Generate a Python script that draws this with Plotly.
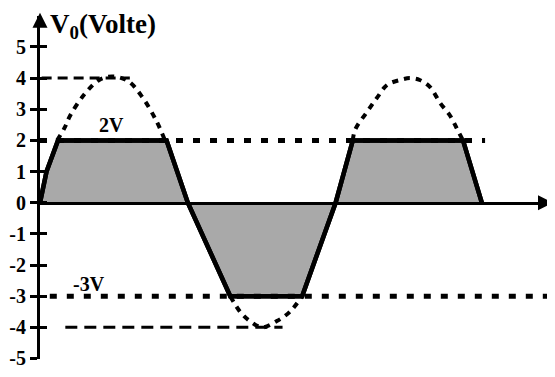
import plotly.graph_objects as go

# ---------------- data (x in degrees of the input sine, y in volts) ----------------
clip_x = [0, 8, 22, 155, 181, 233, 321, 362, 383, 518, 541]
clip_y = [0, 1, 2, 2, 0, -3, -3, 0, 2, 2, 0]

hump1_x = [21, 30, 37, 55, 73, 89, 108, 125, 143, 153]
hump1_y = [2, 2.4, 2.8, 3.5, 3.95, 4.05, 3.9, 3.4, 2.6, 2]
hump2_x = [233, 245, 257, 272, 290, 306, 321]
hump2_y = [-3, -3.5, -3.8, -4.0, -3.8, -3.5, -3]
hump3_x = [383, 386, 400, 413, 425, 441, 453, 465, 478, 490, 502, 511, 518]
hump3_y = [2, 2.35, 2.9, 3.38, 3.78, 3.94, 4.0, 3.94, 3.7, 3.2, 2.8, 2.35, 2]

level_4_x = [2, 110]
level_2_x = [0, 545]
level_m3_x = [12, 630]
level_m4_x = [31, 297]

tick_vals = [5, 4, 3, 2, 1, 0, -1, -2, -3, -4, -5]
tick_text = ["5", "4", "3", "2", "1", "0", "-1", "-2", "-3", "-4", "-5"]

label_2v = (88, 2.5, "2V")
label_3v = (60, -2.62, "-3V")
y_title = "V<sub>0</sub>(Volte)"

# ---------------- layout constants ----------------
W, H = 555, 377
OFF_X, OFF_Y = 8, 4  # offset of the figure inside the browser page


def px_x(p):
    return (p - OFF_X) / W


def px_y(p):
    return 1 - (p - OFF_Y) / H


X_RANGE = [0, 624.5]
Y_RANGE = [-5.03, 6.0]
X_DOMAIN = [px_x(40), px_x(550)]
Y_DOMAIN = [px_y(365), px_y(12)]
Y0_PAPER = Y_DOMAIN[0] + (0 - Y_RANGE[0]) / (Y_RANGE[1] - Y_RANGE[0]) * (Y_DOMAIN[1] - Y_DOMAIN[0])
SERIF = "Liberation Serif, Times New Roman, serif"

fig = go.Figure()

# shaded clipped waveform
fig.add_trace(go.Scatter(
    x=clip_x, y=clip_y, mode="lines", fill="tozeroy",
    fillcolor="#a9a9a9", line=dict(color="black", width=4.5),
    showlegend=False, hoverinfo="skip"))


# reference levels
def hline(xs, level, dash, width):
    fig.add_trace(go.Scatter(
        x=xs, y=[level, level], mode="lines",
        line=dict(color="black", width=width, dash=dash),
        showlegend=False, hoverinfo="skip"))


hline(level_4_x, 4, "10px,6px", 3)
hline(level_2_x, 2, "7px,10px", 5)
hline(level_m3_x, -3, "7px,10px", 5)
hline(level_m4_x, -4, "12px,7px", 3)

# dotted original sine portions
for hx, hy in [(hump1_x, hump1_y), (hump2_x, hump2_y), (hump3_x, hump3_y)]:
    fig.add_trace(go.Scatter(
        x=hx, y=hy, mode="lines", line=dict(color="black", width=4, dash="6px,6px"),
        line_shape="spline", showlegend=False, hoverinfo="skip"))

# redraw the clipped waveform outline on top of the level lines
fig.add_trace(go.Scatter(
    x=clip_x, y=clip_y, mode="lines", line=dict(color="black", width=4.5),
    showlegend=False, hoverinfo="skip"))

# helper trace for the second (inside-ticks) y axis
fig.add_trace(go.Scatter(x=[None], y=[None], yaxis="y2", showlegend=False, hoverinfo="skip"))

for (lx, ly, lt) in [label_2v, label_3v]:
    fig.add_annotation(x=lx, y=ly, text="<b>" + lt + "</b>", showarrow=False,
                       font=dict(family=SERIF, size=20, color="black"))

fig.add_annotation(xref="paper", yref="paper", x=px_x(49), y=1.0, text="<b>" + y_title + "</b>",
                   xanchor="left", yanchor="top", borderpad=0,
                   showarrow=False, font=dict(family=SERIF, size=27, color="black"))

# axis arrow heads
fig.add_annotation(xref="paper", yref="paper", x=X_DOMAIN[0], y=px_y(9),
                   ax=0, ay=14, text="", showarrow=True, arrowhead=2, arrowsize=1,
                   arrowwidth=3, arrowcolor="black")
fig.add_annotation(xref="paper", yref="paper", x=px_x(553), y=Y0_PAPER,
                   ax=-14, ay=0, text="", showarrow=True, arrowhead=2, arrowsize=1,
                   arrowwidth=3, arrowcolor="black")

fig.update_layout(
    width=W, height=H,
    margin=dict(l=0, r=0, t=0, b=0),
    paper_bgcolor="white", plot_bgcolor="white",
    showlegend=False,
    xaxis=dict(domain=X_DOMAIN, range=X_RANGE, anchor="free", position=Y0_PAPER,
               showline=True, linecolor="black", linewidth=3,
               showgrid=False, zeroline=False, showticklabels=False, ticks=""),
    yaxis=dict(domain=Y_DOMAIN, range=Y_RANGE, anchor="x",
               showline=True, linecolor="black", linewidth=3,
               showgrid=False, zeroline=False,
               tickvals=tick_vals, ticktext=["<b>" + t + "</b>" for t in tick_text],
               ticks="outside", ticklen=7, tickwidth=2.5, tickcolor="black",
               tickfont=dict(family=SERIF, size=20, color="black")),
    yaxis2=dict(domain=Y_DOMAIN, range=Y_RANGE, anchor="x", overlaying="y", side="left",
                showline=False, showgrid=False, zeroline=False, showticklabels=False,
                tickvals=tick_vals, ticks="inside", ticklen=7, tickwidth=2.5, tickcolor="black"),
)

fig.write_html("out.html")
